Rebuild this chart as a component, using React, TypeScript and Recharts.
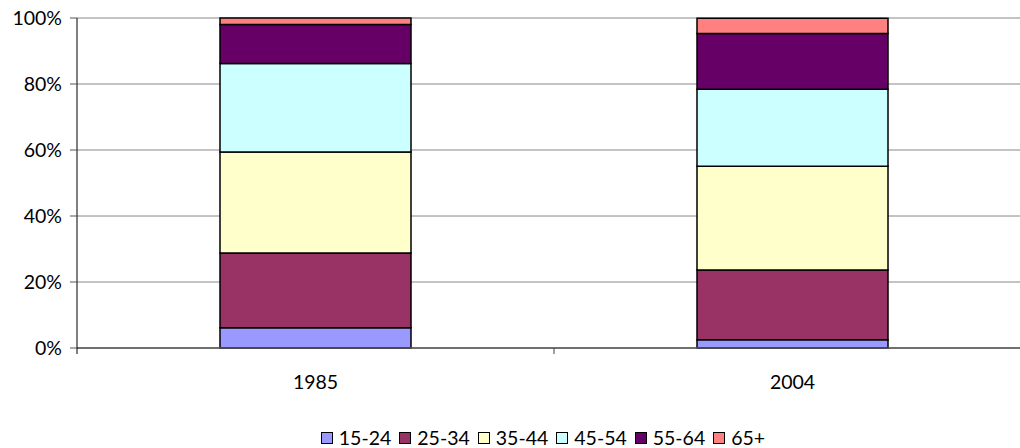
import React from "react";
import {
  Bar,
  BarChart,
  CartesianGrid,
  Legend,
  XAxis,
  YAxis,
} from "recharts";

const years = ["1985", "2004"];
const age15to24 = [6.1, 2.5];
const age25to34 = [22.7, 21.1];
const age35to44 = [30.6, 31.5];
const age45to54 = [26.8, 23.3];
const age55to64 = [11.8, 16.9];
const age65plus = [2.0, 4.6];
const yTicks = [0, 20, 40, 60, 80, 100];

const series = [
  { key: "15-24", values: age15to24, color: "#9999FF" },
  { key: "25-34", values: age25to34, color: "#993366" },
  { key: "35-44", values: age35to44, color: "#FFFFCC" },
  { key: "45-54", values: age45to54, color: "#CCFFFF" },
  { key: "55-64", values: age55to64, color: "#660066" },
  { key: "65+", values: age65plus, color: "#FF8080" },
];

const data = years.map((year, i) => {
  const row: Record<string, string | number> = { year };
  series.forEach((s) => {
    row[s.key] = s.values[i];
  });
  return row;
});

const FONT = "Lato, 'DejaVu Sans', sans-serif";
const FS = 19.5;

const YearTick = (props: any) => {
  const { x, y, payload, index } = props;
  const off = payload?.offset ?? 238;
  return (
    <g>
      {index === 0 && (
        <line x1={x - off} y1={y} x2={x - off} y2={y + 6} stroke="#000" />
      )}
      <line x1={x + off} y1={y} x2={x + off} y2={y + 6} stroke="#444" />
      <text
        x={x}
        y={y + 41}
        textAnchor="middle"
        fontSize={FS}
        fontFamily={FONT}
        fill="#000"
      >
        {payload.value}
      </text>
    </g>
  );
};

const LegendContent = (props: any) => {
  const { payload } = props;
  return (
    <div
      style={{
        display: "flex",
        justifyContent: "center",
        paddingTop: 18,
        fontFamily: FONT,
        fontSize: FS,
        color: "#000",
      }}
    >
      {(payload || []).map((item: any) => (
        <div
          key={item.value}
          style={{ display: "flex", alignItems: "center", marginRight: 8 }}
        >
          <span
            style={{
              display: "inline-block",
              width: 10,
              height: 10,
              background: item.color,
              border: "1px solid #000",
              marginRight: 6,
            }}
          />
          <span>{item.value}</span>
        </div>
      ))}
    </div>
  );
};

export default function App() {
  return (
    <div
      style={{
        position: "absolute",
        left: 0,
        top: 0,
        width: 1020,
        height: 448,
        overflow: "hidden",
        background: "#fff",
      }}
    >
      <BarChart
        width={1040}
        height={448}
        data={data}
        margin={{ top: 18, right: 9, left: 0, bottom: 0 }}
        barSize={191}
      >
        <CartesianGrid vertical={false} stroke="#888" />
        <XAxis
          dataKey="year"
          height={60}
          tickLine={false}
          tickSize={0}
          tickMargin={0}
          axisLine={{ stroke: "#555", strokeWidth: 1.5 }}
          tick={<YearTick />}
          interval={0}
        />
        <YAxis
          width={77}
          domain={[0, 100]}
          ticks={yTicks}
          tickFormatter={(v: number) => `${v}%`}
          tickSize={7}
          tickMargin={8}
          axisLine={{ stroke: "#000" }}
          tickLine={{ stroke: "#555" }}
          tick={{ fontSize: FS, fontFamily: FONT, fill: "#000" }}
        />
        <Legend
          verticalAlign="bottom"
          height={40}
          wrapperStyle={{ left: 70, width: 954 }}
          content={<LegendContent />}
        />
        {series.map((s) => (
          <Bar
            key={s.key}
            dataKey={s.key}
            stackId="a"
            fill={s.color}
            stroke="#000"
            strokeWidth={1.5}
            isAnimationActive={false}
          />
        ))}
      </BarChart>
    </div>
  );
}
